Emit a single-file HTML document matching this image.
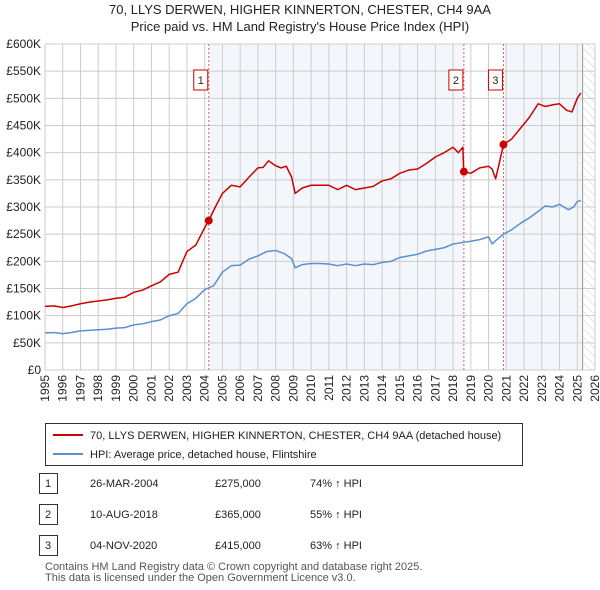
<!DOCTYPE html>
<html><head><meta charset="utf-8"><style>
body{margin:0;background:#fff;font-family:"Liberation Sans","DejaVu Sans",sans-serif;}
#wrap{position:relative;width:600px;height:590px;overflow:hidden;}
</style></head><body>
<div id="wrap">
<svg id="svg" width="600" height="590" xmlns="http://www.w3.org/2000/svg">
<defs><pattern id="hatch" width="6" height="6" patternUnits="userSpaceOnUse" patternTransform="rotate(-45)"><line x1="0" y1="0" x2="0" y2="6" stroke="#ccc" stroke-width="1"/></pattern></defs>
<text x="300" y="14" text-anchor="middle" font-size="13" fill="#222">70, LLYS DERWEN, HIGHER KINNERTON, CHESTER, CH4 9AA</text>
<text x="300" y="31" text-anchor="middle" font-size="13" fill="#222">Price paid vs. HM Land Registry's House Price Index (HPI)</text>
<g id="plot"></g>
<g>
<rect x="45.5" y="423.5" width="477" height="42" fill="#fff" stroke="#333"/>
<line x1="53" y1="435" x2="83" y2="435" stroke="#cc0000" stroke-width="2"/>
<text x="90" y="439" font-size="11" fill="#222">70, LLYS DERWEN, HIGHER KINNERTON, CHESTER, CH4 9AA (detached house)</text>
<line x1="53" y1="454" x2="83" y2="454" stroke="#5b8fd1" stroke-width="2"/>
<text x="90" y="458" font-size="11" fill="#222">HPI: Average price, detached house, Flintshire</text>
</g>
<g id="table" font-size="11" fill="#222"></g>
<text x="45" y="570" font-size="11" fill="#555">Contains HM Land Registry data © Crown copyright and database right 2025.</text>
<text x="45" y="581" font-size="11" fill="#555">This data is licensed under the Open Government Licence v3.0.</text>
</svg>
</div>
<script>
const yearTicks=[1995,1996,1997,1998,1999,2000,2001,2002,2003,2004,2005,2006,2007,2008,2009,2010,2011,2012,2013,2014,2015,2016,2017,2018,2019,2020,2021,2022,2023,2024,2025,2026];
const priceTicks=[0,50,100,150,200,250,300,350,400,450,500,550,600];
const priceLabels=["£0","£50K","£100K","£150K","£200K","£250K","£300K","£350K","£400K","£450K","£500K","£550K","£600K"];
const redT=[1995,1995.5,1996,1996.5,1997,1997.5,1998,1998.5,1999,1999.5,2000,2000.5,2001,2001.5,2002,2002.5,2003,2003.5,2004,2004.23,2004.6,2005,2005.5,2006,2006.5,2007,2007.3,2007.6,2008,2008.3,2008.6,2008.9,2009.1,2009.5,2010,2010.5,2011,2011.5,2012,2012.5,2013,2013.5,2014,2014.5,2015,2015.5,2016,2016.5,2017,2017.5,2018,2018.3,2018.55,2018.6,2019,2019.5,2020,2020.2,2020.4,2020.6,2020.84,2021.3,2021.8,2022.3,2022.8,2023.2,2023.6,2024,2024.4,2024.7,2025,2025.2];
const redV=[117,118,115,118,122,125,127,129,132,134,143,147,155,162,176,180,218,230,262,275,300,325,340,337,355,372,373,385,376,372,375,355,325,335,340,340,340,332,340,332,335,338,348,352,362,368,370,380,392,400,410,400,410,365,362,372,375,370,352,380,415,425,445,465,490,485,488,490,478,475,500,510];
const blueT=[1995,1995.5,1996,1996.5,1997,1997.5,1998,1998.5,1999,1999.5,2000,2000.5,2001,2001.5,2002,2002.5,2003,2003.5,2004,2004.5,2005,2005.5,2006,2006.5,2007,2007.5,2008,2008.5,2008.9,2009.1,2009.5,2010,2010.5,2011,2011.5,2012,2012.5,2013,2013.5,2014,2014.5,2015,2015.5,2016,2016.5,2017,2017.5,2018,2018.6,2019,2019.5,2020,2020.2,2020.4,2020.84,2021.3,2021.8,2022.3,2022.8,2023.2,2023.6,2024,2024.5,2024.8,2025,2025.2];
const blueV=[68,69,67,69,72,73,74,75,77,78,83,85,89,92,100,104,122,132,148,155,180,192,193,204,210,218,220,214,205,188,194,196,196,195,192,195,192,195,194,198,200,207,210,213,219,222,225,232,235,237,240,245,232,238,250,258,270,280,292,302,300,305,295,300,310,312];
const sales=[{n:"1",t:2004.23,v:275,date:"26-MAR-2004",price:"£275,000",hpi:"74% ↑ HPI"},{n:"2",t:2018.61,v:365,date:"10-AUG-2018",price:"£365,000",hpi:"55% ↑ HPI"},{n:"3",t:2020.84,v:415,date:"04-NOV-2020",price:"£415,000",hpi:"63% ↑ HPI"}];
const dataEnd=2025.3;
const X0=45,X1=595,Y0=370,Y1=44;
const xs=t=>X0+(t-1995)/(2026-1995)*(X1-X0);
const ys=v=>Y0-v/600*(Y0-Y1);
const NS="http://www.w3.org/2000/svg";
const plot=document.getElementById('plot');
function mk(tag,attrs,parent){const e=document.createElementNS(NS,tag);for(const k in attrs)e.setAttribute(k,attrs[k]);(parent||plot).appendChild(e);return e;}
// shading
let r=mk('rect',{x:xs(sales[0].t),y:Y1,width:xs(sales[1].t)-xs(sales[0].t),height:Y0-Y1,fill:'#eef3fb',opacity:0.7});


r=mk('rect',{x:xs(sales[2].t),y:Y1,width:xs(dataEnd)-xs(sales[2].t),height:Y0-Y1,fill:'#eef3fb',opacity:0.7});


r=mk('rect',{x:xs(dataEnd),y:Y1,width:X1-xs(dataEnd),height:Y0-Y1,fill:'url(#hatch)'});


// grid
yearTicks.forEach(y=>{const l=mk('line',{x1:xs(y),x2:xs(y),y1:Y1,y2:Y0,stroke:'#ccc','stroke-width':1});


const t=mk('text',{x:0,y:0,'font-size':12,fill:'#222','text-anchor':'end',transform:`translate(${xs(y)+4},${Y0+5}) rotate(-90)`});t.textContent=y;

});
priceTicks.forEach((p,i)=>{const l=mk('line',{x1:X0,x2:X1,y1:ys(p),y2:ys(p),stroke:'#ccc','stroke-width':1});


const t=mk('text',{x:X0-4,y:ys(p)+4,'font-size':12,fill:'#222','text-anchor':'end'});t.textContent=priceLabels[i];

});
let el=mk('line',{x1:xs(dataEnd),x2:xs(dataEnd),y1:Y1,y2:Y0,stroke:'#999','stroke-width':1});


// sale lines
sales.forEach(s=>{const l=mk('line',{x1:xs(s.t),x2:xs(s.t),y1:Y1,y2:Y0,stroke:'#e06060','stroke-width':1,'stroke-dasharray':'2,2'});


const b=mk('rect',{x:xs(s.t)-15,y:70,width:14,height:20,fill:'#fff',stroke:'#cc0000'});


const t=mk('text',{x:xs(s.t)-8,y:84,'font-size':11,fill:'#222','text-anchor':'middle'});t.textContent=s.n;

});
function line(T,V,c,name){const p=mk('polyline',{points:T.map((t,i)=>xs(t)+','+ys(V[i])).join(' '),fill:'none',stroke:c,'stroke-width':1.5,'stroke-linejoin':'round'});

}
line(blueT,blueV,'#5b8fd1','hpi-line');
line(redT,redV,'#cc0000','property-line');
sales.forEach(s=>{const c=mk('circle',{cx:xs(s.t),cy:ys(s.v),r:4,fill:'#cc0000'});

});
// table
const tb=document.getElementById('table');
sales.forEach((s,i)=>{const y=487+i*31;
const b=mk('rect',{x:39.5,y:y-13.5,width:18,height:20,fill:'#fff',stroke:'#333'},tb);


[[48,s.n,'middle'],[90,s.date,'start'],[215,s.price,'start'],[310,s.hpi,'start']].forEach(([x,txt,a])=>{const t=mk('text',{x:x,y:y,'text-anchor':a},tb);t.textContent=txt;

});});
</script>
</body></html>
